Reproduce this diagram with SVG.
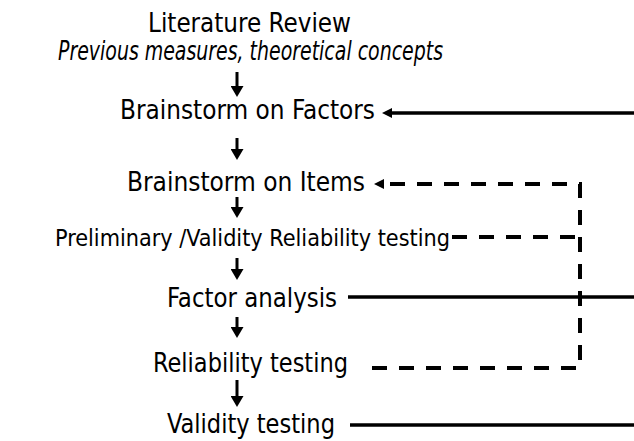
<svg xmlns="http://www.w3.org/2000/svg" width="634" height="441" viewBox="0 0 634 441">
  <style>
    .lbl { font-family: "DejaVu Sans Condensed", "DejaVu Sans", sans-serif; font-stretch: condensed; font-size: 26px; fill: #000; }
    .small { font-size: 23px; }
    .it { font-style: italic; }
    .flow { stroke: #000; stroke-width: 3; fill: none; }
    .back { stroke: #000; stroke-width: 3.5; fill: none; }
    .dash { stroke: #000; stroke-width: 4; fill: none; stroke-dasharray: 15 12; stroke-linejoin: miter; }
  </style>
  <defs>
    <!-- head for the vertical flow arrows -->
    <marker id="head" viewBox="0 0 11 13" refX="2" refY="6.5" markerWidth="11" markerHeight="13" markerUnits="userSpaceOnUse" orient="auto">
      <path d="M0,0 L11,6.5 L0,13 z" fill="#000"/>
    </marker>
    <!-- slimmer head for the horizontal feedback arrows -->
    <marker id="headH" viewBox="0 0 10 10" refX="2" refY="5" markerWidth="10" markerHeight="10" markerUnits="userSpaceOnUse" orient="auto">
      <path d="M0,0 L10,5 L0,10 z" fill="#000"/>
    </marker>
  </defs>

  <rect width="634" height="441" fill="#fff"/>

  <g id="literature-review">
    <text class="lbl" x="148" y="32" textLength="203" lengthAdjust="spacingAndGlyphs">Literature Review</text>
    <text class="lbl it" x="58" y="60" textLength="385" lengthAdjust="spacingAndGlyphs">Previous measures, theoretical concepts</text>
  </g>
  <g id="brainstorm-factors">
    <text class="lbl" x="120" y="119" textLength="255" lengthAdjust="spacingAndGlyphs">Brainstorm on Factors</text>
  </g>
  <g id="brainstorm-items">
    <text class="lbl" x="127" y="191" textLength="238" lengthAdjust="spacingAndGlyphs">Brainstorm on Items</text>
  </g>
  <g id="preliminary-testing">
    <text class="lbl small" x="55" y="246" textLength="395" lengthAdjust="spacingAndGlyphs">Preliminary /Validity Reliability testing</text>
  </g>
  <g id="factor-analysis">
    <text class="lbl" x="167" y="307" textLength="170" lengthAdjust="spacingAndGlyphs">Factor analysis</text>
  </g>
  <g id="reliability-testing">
    <text class="lbl" x="153" y="372" textLength="195" lengthAdjust="spacingAndGlyphs">Reliability testing</text>
  </g>
  <g id="validity-testing">
    <text class="lbl" x="167" y="433" textLength="168" lengthAdjust="spacingAndGlyphs">Validity testing</text>
  </g>

  <g id="connectors">
    <!-- main downward flow -->
    <line class="flow" x1="237" y1="72" x2="237" y2="88" marker-end="url(#head)"/>
    <line class="flow" x1="237" y1="138" x2="237" y2="151" marker-end="url(#head)"/>
    <line class="flow" x1="237" y1="197" x2="237" y2="209" marker-end="url(#head)"/>
    <line class="flow" x1="237" y1="258" x2="237" y2="271" marker-end="url(#head)"/>
    <line class="flow" x1="237" y1="317" x2="237" y2="329" marker-end="url(#head)"/>
    <line class="flow" x1="237" y1="380" x2="237" y2="398" marker-end="url(#head)"/>

    <!-- solid return lines to factor brainstorm -->
    <line class="back" x1="634" y1="113" x2="390" y2="113" marker-end="url(#headH)"/>
    <line class="back" x1="348" y1="297" x2="634" y2="297"/>
    <line class="back" x1="350" y1="425" x2="634" y2="425"/>

    <!-- dashed return lines to item brainstorm -->
    <path class="dash" d="M372,368 H580 V184 H382" marker-end="url(#headH)"/>
    <path class="dash" d="M452,237 H580"/>
  </g>
</svg>
